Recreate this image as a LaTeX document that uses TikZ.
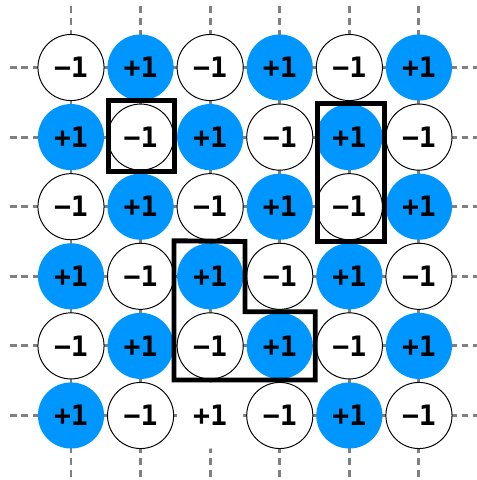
\documentclass[tikz,border=0pt]{standalone}
\usepackage{fontspec}
\newfontfamily\spinfont{DejaVu Sans Mono}
\definecolor{spinblue}{RGB}{0,150,255}
\tikzset{
  site/.style={circle, minimum size=0.95cm, inner sep=0pt, font=\spinfont\bfseries\fontsize{11.5}{12}\selectfont},
  spinup/.style={site, fill=spinblue},
  spindown/.style={site, draw=black, line width=0.4pt, fill=white},
  vacant/.style={site, fill=white},
  bond/.style={gray, line width=1.2pt},
  bondend/.style={bond, dash pattern=on 2.8pt off 2pt},
  plaquette/.style={line width=2pt, line join=miter}
}

\begin{document}
\begin{tikzpicture}
    \useasboundingbox (-0.02,-6.927) rectangle (6.833,-0.03);
    % lattice points
    \foreach \i in {1,...,6}{\foreach \j in {1,...,6}{\coordinate (p-\i-\j) at (\i,-\j);}}
    \foreach \k in {1,...,6}{
        \coordinate (w-\k) at (0.12,-\k); \coordinate (e-\k) at (6.88,-\k);
        \coordinate (n-\k) at (\k,-0.12); \coordinate (s-\k) at (\k,-6.88);
        \draw[bond] (p-1-\k) -- (p-6-\k); \draw[bond] (p-\k-1) -- (p-\k-6);
        \draw[bondend] (w-\k) -- (p-1-\k); \draw[bondend] (e-\k) -- (p-6-\k);
        \draw[bondend] (n-\k) -- (p-\k-1); \draw[bondend] (s-\k) -- (p-\k-6);
    }
    % spins
    \foreach \i in {1,...,6}{\foreach \j in {1,...,6}{
        \pgfmathtruncatemacro{\parity}{mod(\i+\j,2)}
        \ifnum\parity=0
            \node[spindown] (c-\i-\j) at (p-\i-\j) {−1};
        \else
            \ifnum\i\j=36
                \node[vacant] (c-\i-\j) at (p-\i-\j) {+1};
            \else
                \node[spinup] (c-\i-\j) at (p-\i-\j) {+1};
            \fi
        \fi
    }}
    % plaquettes
    \draw[plaquette] (1.54,-1.47) rectangle (2.49,-2.49);
    \draw[plaquette] (4.54,-1.52) rectangle (5.50,-3.50);
    \draw[plaquette] (2.48,-3.49) -- (3.50,-3.50) -- (3.50,-4.51) -- (4.51,-4.51) -- (4.51,-5.49) -- (2.48,-5.49) -- cycle;
\end{tikzpicture}
\end{document}
